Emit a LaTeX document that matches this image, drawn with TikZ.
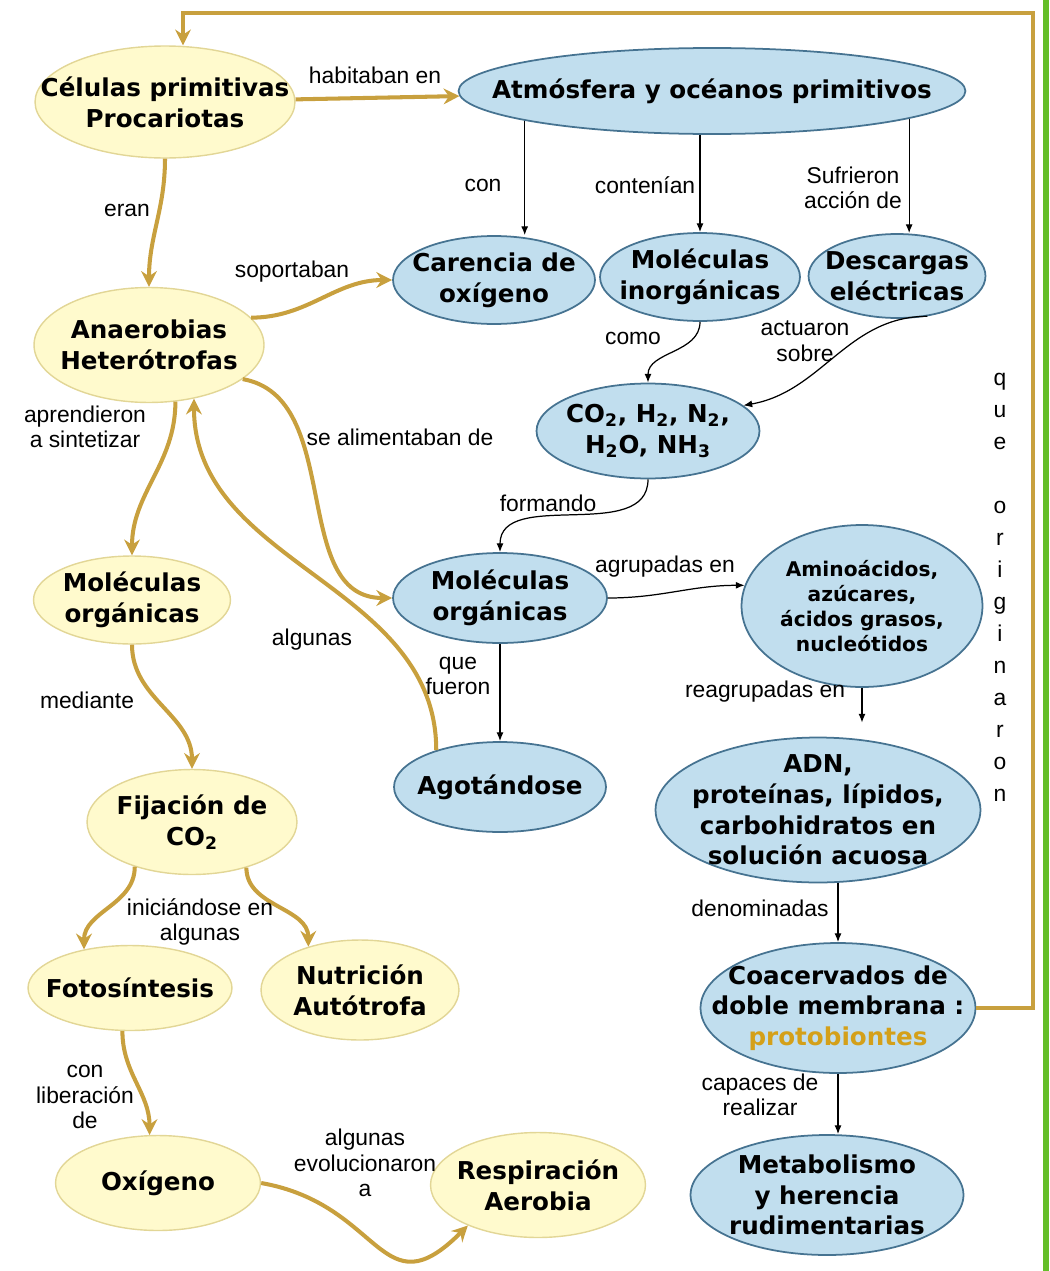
\documentclass[tikz,border=0pt]{standalone}
\usepackage{fontspec}
\setmainfont{Liberation Sans}
\newfontfamily\cmfam{DejaVu Sans}
\usetikzlibrary{shapes.geometric, arrows.meta}

\definecolor{yelfill}{RGB}{255,250,205}
\definecolor{yeldraw}{RGB}{226,214,150}
\definecolor{blufill}{RGB}{193,222,238}
\definecolor{bludraw}{RGB}{70,115,145}
\definecolor{goldc}{RGB}{200,160,62}
\definecolor{protoc}{RGB}{212,160,25}
\definecolor{grn}{RGB}{100,190,40}

\newcommand{\cmfont}{\fontsize{14}{17.5}\selectfont\cmfam\bfseries}
\newcommand{\lblfont}{\fontsize{13}{14.5}\selectfont}

\begin{document}
\begin{tikzpicture}[x=0.02cm, y=-0.02cm,
yel/.style={ellipse,
  draw=yeldraw,
  fill=yelfill,
  line width=0.8pt,
  inner xsep=-25pt, inner ysep=-12pt,
  align=center,
  font=\cmfont
},
blu/.style={ellipse,
  draw=bludraw,
  fill=blufill,
  line width=1pt,
  inner xsep=-25pt, inner ysep=-12pt,
  align=center,
  font=\cmfont
},
lbl/.style={align=center, font=\lblfont, inner sep=1pt},
gold/.style={-{Stealth[length=9pt,width=9pt,inset=3pt]}, draw=goldc, line width=2.3pt},
blk/.style={-{Latex[length=5pt,width=4pt]}, draw=black, line width=0.7pt}
]
\useasboundingbox (0,0) rectangle (1049,1271);
\fill[grn] (1043,0) rectangle (1049,1271);

% left column
\node[yel, minimum width=5.2cm, minimum height=2.24cm] (cel) at (165,102)
    {Células primitivas\\Procariotas};
\node[yel, minimum width=4.6cm, minimum height=2.3cm] (ana) at (149,345)
    {Anaerobias\\Heterótrofas};
\node[yel, minimum width=3.94cm, minimum height=1.76cm] (moy) at (132,600)
    {Moléculas\\orgánicas};
\node[yel, minimum width=4.2cm, minimum height=2.1cm] (fij) at (192,822)
    {Fijación de\\CO\textsubscript{2}};
\node[yel, minimum width=4.08cm, minimum height=1.7cm] (fot) at (130,988)
    {Fotosíntesis};
\node[yel, minimum width=3.96cm, minimum height=2cm] (nut) at (360,990)
    {Nutrición\\Autótrofa};
\node[yel, minimum width=4.1cm, minimum height=1.9cm] (oxi) at (158,1183)
    {Oxígeno};
\node[yel, minimum width=4.3cm, minimum height=2.1cm] (res) at (538,1185)
    {Respiración\\Aerobia};

% right part
\node[blu, minimum width=10.14cm, minimum height=1.72cm] (atm) at (712,91)
    {Atmósfera y océanos primitivos};
\node[blu, minimum width=4.04cm, minimum height=1.76cm] (car) at (494,280)
    {Carencia de\\oxígeno};
\node[blu, minimum width=4cm, minimum height=1.76cm] (mi) at (700,277)
    {Moléculas\\inorgánicas};
\node[blu, minimum width=3.54cm, minimum height=1.68cm] (de) at (897,276)
    {Descargas\\eléctricas};
\node[blu, minimum width=4.46cm, minimum height=1.9cm] (co) at (648,431)
    {CO\textsubscript{2}, H\textsubscript{2}, N\textsubscript{2},\\H\textsubscript{2}O, NH\textsubscript{3}};
\node[blu, minimum width=4.28cm, minimum height=1.8cm] (mob) at (500,598)
    {Moléculas\\orgánicas};
\node[blu, minimum width=4.82cm, minimum height=3.24cm, font=\fontsize{11.5}{14.2}\selectfont\cmfam\bfseries] (ami) at (862,606)
    {Aminoácidos,\\azúcares,\\ácidos grasos,\\nucleótidos};
\node[blu, minimum width=4.24cm, minimum height=1.8cm] (ago) at (500,787)
    {Agotándose};
\node[blu, minimum width=6.5cm, minimum height=2.9cm] (adn) at (818,810)
    {ADN,\\proteínas, lípidos,\\carbohidratos en\\solución acuosa};
\node[blu, minimum width=5.5cm, minimum height=2.6cm] (coa) at (838,1008)
    {Coacervados de\\doble membrana :\\{\color{protoc}protobiontes}};
\node[blu, minimum width=5.46cm, minimum height=2.4cm] (met) at (827,1195)
    {Metabolismo\\y herencia\\rudimentarias};

% gold links
\coordinate (c1) at (1033,13);
\coordinate (c2) at (183,13);
\draw[gold] (coa.east) -| (c1) -- (c2) -- (c2 |- cel.north);
\draw[gold] (cel) -- (atm);
\draw[gold] (cel.south) to[out=-90,in=90] (ana.north);
\draw[gold] (ana.15) to[out=0,in=180] (car.west);
\draw[gold] (ana.-20) to[out=-10,in=180] (mob.west);
\draw[gold] (ana.-65) to[out=-90,in=90] (moy.north);
\draw[gold] (ago.150) to[out=90,in=-90] (ana.-50);
\draw[gold] (moy.south) to[out=-90,in=90] (fij.north);
\draw[gold] (fij.-142) to[out=-90,in=90] (fot.140);
\draw[gold] (fij.-40) to[out=-90,in=90] (nut.140);
\draw[gold] (fot.-100) to[out=-90,in=90] (oxi.100);
\draw[gold] (oxi.east) to[out=-10,in=-135,looseness=1.5] (res.210);

% black links
\draw[blk] (atm.189) -- (atm.189 |- car.north);
\draw[blk] (mi.north |- atm.south) -- (mi.north);
\draw[blk] (atm.-8) -- (atm.-8 |- de.north);
\draw[blk] (mi.south) to[out=-90,in=90] (co.north);
\draw[blk] (de.-53) to[out=180,in=10] (co.15);
\draw[blk] (co.south) to[out=-90,in=90] (mob.north);
\draw[blk] (mob.east) to[out=0,in=180] (ami.170);
\draw[blk] (mob) -- (ago);
\draw[blk, shorten >=8pt] (ami.south) -- (ami.south |- adn.north);
\draw[blk] (coa.north |- adn.south) -- (coa.north);
\draw[blk] (coa.south) -- (coa.south |- met.north);

% labels
\node[lbl] (lhab) at (375,75) {habitaban en};
\node[lbl] (ler) at (127,210) {eran};
\node[lbl] (lsop) at (292,272) {soportaban};
\node[lbl] (lapr) at (85,427) {aprendieron\\a sintetizar};
\node[lbl] (lali) at (400,437) {se alimentaban de};
\node[lbl] (lalg) at (312,640) {algunas};
\node[lbl] (lmed) at (87,700) {mediante};
\node[lbl] (lini) at (200,922) {iniciándose en\\algunas};
\node[lbl] (llib) at (85,1097) {con\\liberación\\de};
\node[lbl] (levo) at (365,1163) {algunas\\evolucionaron\\a};
\node[lbl] (lcon) at (483,185) {con};
\node[lbl] (lcont) at (645,185) {contenían};
\node[lbl] (lsuf) at (853,188) {Sufrieron\\acción de};
\node[lbl] (lcomo) at (633,338) {como};
\node[lbl] (lact) at (805,341) {actuaron\\sobre};
\node[lbl] (lfor) at (548,503) {formando};
\node[lbl] (lagr) at (665,567) {agrupadas en};
\node[lbl] (lque) at (458,676) {que\\fueron};
\node[lbl] (lreag) at (765,692) {reagrupadas en};
\node[lbl] (lden) at (760,908) {denominadas};
\node[lbl] (lcap) at (760,1095) {capaces de\\realizar};
\node[lbl, font=\fontsize{13}{18.2}\selectfont] (lorig) at (1000,587)
    {q\\u\\e\\[18.2pt]o\\r\\i\\g\\i\\n\\a\\r\\o\\n};
\end{tikzpicture}
\end{document}
